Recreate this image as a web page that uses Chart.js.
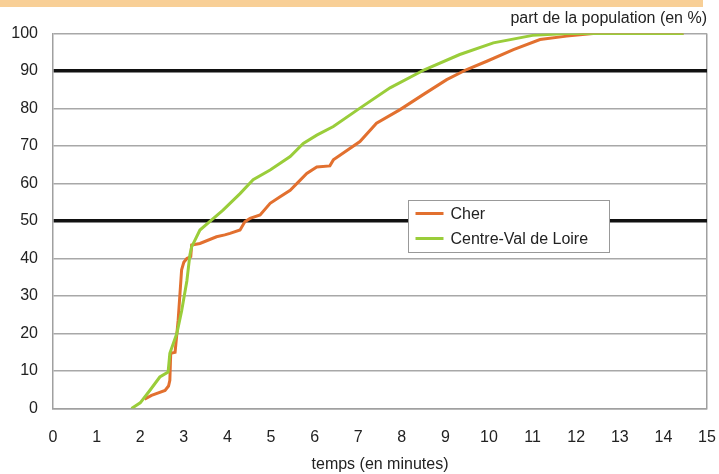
<!DOCTYPE html>
<html>
<head>
<meta charset="utf-8">
<script src="https://cdn.jsdelivr.net/npm/chart.js@4"></script>
<style>
  html, body { margin: 0; padding: 0; background: #fff; }
  #wrap { width: 719px; height: 474px; }
</style>
</head>
<body>
<div id="wrap"><canvas id="courbe"></canvas></div>
<script>
// temps d'accès (minutes) / part de la population (%)
const cherMinutes = [2.1, 2.26, 2.57, 2.65, 2.68, 2.70, 2.80, 2.87, 2.95, 3.0, 3.07, 3.16, 3.18, 3.37, 3.75, 3.94, 4.06, 4.29, 4.4, 4.52, 4.75, 4.98, 5.2, 5.44, 5.67, 5.82, 6.05, 6.35, 6.43, 7.04, 7.42, 7.96, 8.49, 9.03, 9.49, 9.95, 10.56, 11.17, 11.78, 12.39, 14.46];
const cherPart = [2.5, 3.5, 4.8, 6, 7.5, 14.7, 15, 23.5, 37, 39, 40, 40.5, 43.6, 44, 45.8, 46.3, 46.7, 47.6, 49.8, 50.7, 51.6, 54.7, 56.4, 58.2, 60.9, 62.7, 64.4, 64.7, 66.3, 71.2, 76.1, 79.7, 83.7, 87.7, 90.4, 92.6, 95.7, 98.4, 99.3, 100, 100];

const cvlMinutes = [1.8, 2.0, 2.22, 2.45, 2.64, 2.68, 2.84, 2.95, 3.07, 3.14, 3.18, 3.37, 3.64, 3.9, 4.29, 4.59, 4.98, 5.44, 5.74, 6.05, 6.43, 7.04, 7.73, 8.53, 9.33, 10.1, 11.0, 11.78, 14.46];
const cvlPart = [0, 1.5, 4.8, 8.4, 9.7, 14.7, 20, 26, 34, 41, 43.1, 47.6, 50.3, 52.9, 57.3, 61, 63.6, 67.2, 70.7, 72.9, 75.2, 80.1, 85.5, 90.4, 94.4, 97.5, 99.5, 100, 100];

const seriesNames = ['Cher', 'Centre-Val de Loire'];
const xTicks = [0, 1, 2, 3, 4, 5, 6, 7, 8, 9, 10, 11, 12, 13, 14, 15];
const yTicks = [0, 10, 20, 30, 40, 50, 60, 70, 80, 90, 100];
const seuils = [50, 90];

const police = '"Liberation Sans", Arial, sans-serif';
const toPts = (xs, ys) => xs.map((x, i) => ({ x: x, y: ys[i] }));

// bandeau orange en haut
const bandeau = {
  id: 'bandeau',
  beforeDraw(chart) {
    const c = chart.ctx;
    c.save();
    c.fillStyle = '#f8cf96';
    c.fillRect(0, 0, 703, 7);
    c.restore();
  }
};

// légende encadrée dans la zone du graphique
const legendeBoite = {
  id: 'legendeBoite',
  afterDraw(chart) {
    const c = chart.ctx;
    const a = chart.chartArea;
    const x0 = a.left + 355.5, y0 = a.top + 167;
    c.save();
    c.fillStyle = '#fff';
    c.fillRect(x0, y0, 201, 52);
    c.strokeStyle = '#999';
    c.lineWidth = 1;
    c.strokeRect(x0, y0, 201, 52);
    c.font = '16px ' + police;
    c.textBaseline = 'middle';
    chart.data.datasets.forEach((ds, i) => {
      const y = y0 + 13 + i * 25;
      c.strokeStyle = ds.borderColor;
      c.lineWidth = 3;
      c.beginPath();
      c.moveTo(x0 + 7, y);
      c.lineTo(x0 + 35, y);
      c.stroke();
      c.fillStyle = '#222';
      c.fillText(ds.label, x0 + 42, y + 1);
    });
    c.restore();
  }
};

const cfg = {
  type: 'line',
  data: {
    datasets: [
      {
        label: seriesNames[0],
        data: toPts(cherMinutes, cherPart),
        borderColor: '#e2702f',
        borderWidth: 3,
        pointRadius: 0,
        tension: 0,
        order: 1
      },
      {
        label: seriesNames[1],
        data: toPts(cvlMinutes, cvlPart),
        borderColor: '#9acd3a',
        borderWidth: 3,
        pointRadius: 0,
        tension: 0,
        order: 0
      }
    ]
  },
  options: {
    responsive: true,
    maintainAspectRatio: false,
    animation: false,
    layout: { padding: { left: 0, right: 12, top: 0, bottom: 0 } },
    plugins: {
      legend: { display: false },
      tooltip: { enabled: false },
      title: {
        display: true,
        text: 'part de la population (en %)',
        align: 'end',
        color: '#222',
        font: { family: police, size: 16, weight: 'normal', lineHeight: 1.2 },
        padding: { top: 8.5, bottom: 5.8 }
      }
    },
    scales: {
      x: {
        type: 'linear',
        min: 0,
        max: 15,
        afterFit: s => { s.height = 65.5; s.paddingLeft = 0; s.paddingRight = 0; },
        afterBuildTicks: s => { s.ticks = xTicks.map(v => ({ value: v })); },
        border: { color: '#a0a0a0', width: 1.5 },
        grid: {
          drawTicks: false,
          color: c => c.tick && c.tick.value === 15 ? '#a0a0a0' : 'rgba(0,0,0,0)',
          lineWidth: 1.5
        },
        ticks: {
          padding: 19,
          color: '#222',
          font: { family: police, size: 16 }
        },
        title: {
          display: true,
          text: 'temps (en minutes)',
          color: '#222',
          font: { family: police, size: 16 },
          padding: { top: 0, bottom: 0 }
        }
      },
      y: {
        min: 0,
        max: 100,
        afterFit: s => { s.width = 53; },
        afterBuildTicks: s => { s.ticks = yTicks.map(v => ({ value: v })); },
        border: { color: '#a0a0a0', width: 1.5 },
        grid: {
          drawTicks: false,
          color: c => seuils.includes(c.tick.value) ? '#111' : '#a8a8a8',
          lineWidth: c => seuils.includes(c.tick.value) ? 3.5 : 1.5
        },
        ticks: {
          padding: 15,
          color: '#222',
          font: { family: police, size: 16 }
        }
      }
    }
  },
  plugins: [bandeau, legendeBoite]
};

const courbeCtx = document.getElementById('courbe');
window.myCourbe = new Chart(courbeCtx, cfg);
</script>
</body>
</html>
